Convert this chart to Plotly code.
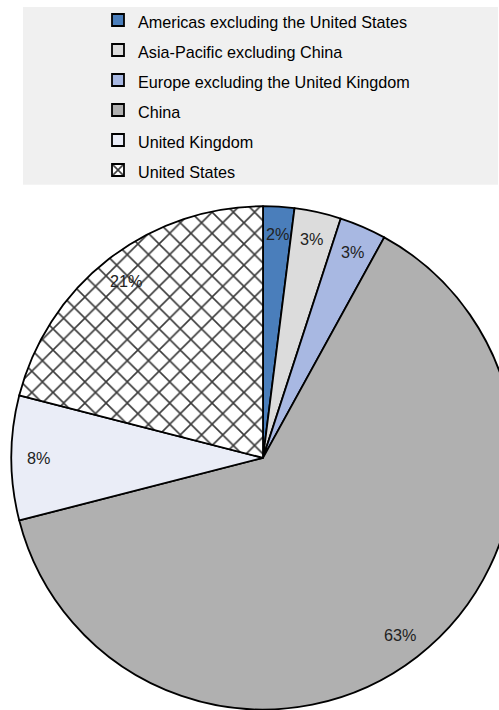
import math
import plotly.graph_objects as go

# Regional share (%)
regions = [
    "Americas excluding the United States",
    "Asia-Pacific excluding China",
    "Europe excluding the United Kingdom",
    "China",
    "United Kingdom",
    "United States",
]
shares = [2, 3, 3, 63, 8, 21]
colors = ["#4a7ebb", "#dcdcdc", "#a8b8e2", "#b0b0b0", "#eaedf7", "#ffffff"]
patterns = ["", "", "", "", "", "x"]

W, H = 530, 710
# pie geometry in pixels
cx, cy, r = 263, 457.5, 252
FONT = "Liberation Sans, Arial, sans-serif"
TEXT_SIZE = 16.2

# legend entries: row pitch comes from the legend font, glyphs drawn smaller
legend_labels = [f'<span style="font-size:{TEXT_SIZE}px">{name}</span>' for name in regions]

fig = go.Figure()
fig.add_trace(go.Pie(
    labels=legend_labels,
    values=shares,
    sort=False,
    direction="clockwise",
    rotation=0,
    textinfo="none",
    hoverinfo="label+percent",
    marker=dict(
        colors=colors,
        line=dict(color="#000000", width=1.8),
        pattern=dict(shape=patterns, fgcolor="#3a3a3a", bgcolor="#ffffff",
                     size=15, solidity=0.2),
    ),
    domain=dict(x=[(cx - r) / W, (cx + r) / W], y=[(H - cy - r) / H, (H - cy + r) / H]),
    showlegend=True,
))

# percentage labels placed near the rim of each slice
total = sum(shares)
cum = 0
annotations = []
for v in shares:
    mid = (cum + v / 2) / total * 2 * math.pi
    cum += v
    px = cx + 0.89 * r * math.sin(mid)
    py = cy - 0.89 * r * math.cos(mid)
    annotations.append(dict(
        x=px / W, y=1 - py / H, xref="paper", yref="paper",
        text=f"{round(v / total * 100)}%", showarrow=False,
        font=dict(family=FONT, size=TEXT_SIZE, color="#222222"),
        xanchor="center", yanchor="middle",
    ))

fig.update_layout(
    width=W, height=H, autosize=False,
    margin=dict(l=0, r=0, t=0, b=0),
    paper_bgcolor="#ffffff",
    annotations=annotations,
    shapes=[dict(type="rect", xref="paper", yref="paper", layer="below",
                 x0=23 / W, x1=498 / W, y0=1 - 184 / H, y1=1 - 6 / H,
                 fillcolor="#f0f0f0", line=dict(width=0))],
    legend=dict(
        x=98 / W, xanchor="left", y=1 + 1 / H, yanchor="top",
        bgcolor="rgba(0,0,0,0)", borderwidth=0,
        font=dict(family=FONT, size=20.77, color="#000000"),
    ),
)

fig.write_html("out.html", post_script="document.body.style.overflow='hidden';document.body.style.margin='0';")
